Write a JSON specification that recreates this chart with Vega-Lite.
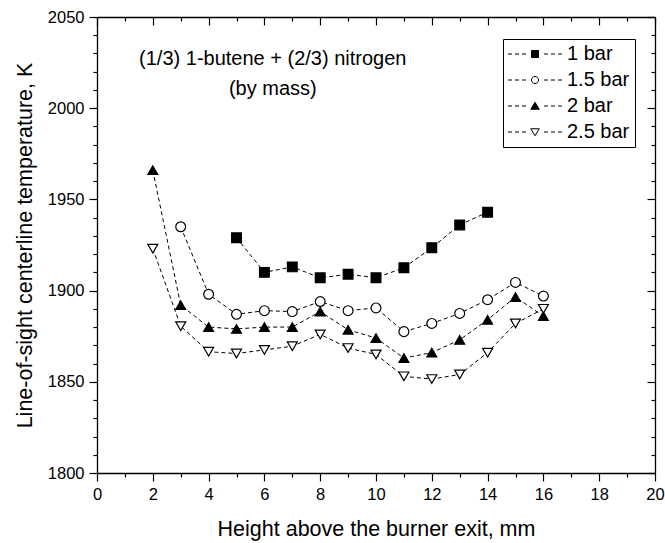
{
  "$schema": "https://vega.github.io/schema/vega-lite/v6.json",
  "width": 558,
  "height": 456,
  "autosize": {"type": "none"},
  "padding": {"left": 97, "top": 17, "right": 10, "bottom": 70},
  "background": "white",
  "config": {"view": {"stroke": null}, "font": "Liberation Sans", "axis": {"grid": false}},
  "data": {
    "values": [
      {"h": 5, "T": 1929, "series": "1 bar"},
      {"h": 6, "T": 1910, "series": "1 bar"},
      {"h": 7, "T": 1913, "series": "1 bar"},
      {"h": 8, "T": 1907, "series": "1 bar"},
      {"h": 9, "T": 1909, "series": "1 bar"},
      {"h": 10, "T": 1907, "series": "1 bar"},
      {"h": 11, "T": 1912.5, "series": "1 bar"},
      {"h": 12, "T": 1923.5, "series": "1 bar"},
      {"h": 13, "T": 1936, "series": "1 bar"},
      {"h": 14, "T": 1943, "series": "1 bar"},
      {"h": 3, "T": 1935, "series": "1.5 bar"},
      {"h": 4, "T": 1898, "series": "1.5 bar"},
      {"h": 5, "T": 1887, "series": "1.5 bar"},
      {"h": 6, "T": 1889, "series": "1.5 bar"},
      {"h": 7, "T": 1888.5, "series": "1.5 bar"},
      {"h": 8, "T": 1894, "series": "1.5 bar"},
      {"h": 9, "T": 1889, "series": "1.5 bar"},
      {"h": 10, "T": 1890.5, "series": "1.5 bar"},
      {"h": 11, "T": 1877.5, "series": "1.5 bar"},
      {"h": 12, "T": 1882, "series": "1.5 bar"},
      {"h": 13, "T": 1887.5, "series": "1.5 bar"},
      {"h": 14, "T": 1895, "series": "1.5 bar"},
      {"h": 15, "T": 1904.5, "series": "1.5 bar"},
      {"h": 16, "T": 1897, "series": "1.5 bar"},
      {"h": 2, "T": 1966, "series": "2 bar"},
      {"h": 3, "T": 1892, "series": "2 bar"},
      {"h": 4, "T": 1880, "series": "2 bar"},
      {"h": 5, "T": 1879, "series": "2 bar"},
      {"h": 6, "T": 1880, "series": "2 bar"},
      {"h": 7, "T": 1880, "series": "2 bar"},
      {"h": 8, "T": 1888.5, "series": "2 bar"},
      {"h": 9, "T": 1878.5, "series": "2 bar"},
      {"h": 10, "T": 1874, "series": "2 bar"},
      {"h": 11, "T": 1863, "series": "2 bar"},
      {"h": 12, "T": 1866, "series": "2 bar"},
      {"h": 13, "T": 1873, "series": "2 bar"},
      {"h": 14, "T": 1884, "series": "2 bar"},
      {"h": 15, "T": 1896.5, "series": "2 bar"},
      {"h": 16, "T": 1886, "series": "2 bar"},
      {"h": 2, "T": 1923, "series": "2.5 bar"},
      {"h": 3, "T": 1880.5, "series": "2.5 bar"},
      {"h": 4, "T": 1866.5, "series": "2.5 bar"},
      {"h": 5, "T": 1865.5, "series": "2.5 bar"},
      {"h": 6, "T": 1867.5, "series": "2.5 bar"},
      {"h": 7, "T": 1869.5, "series": "2.5 bar"},
      {"h": 8, "T": 1876, "series": "2.5 bar"},
      {"h": 9, "T": 1868.5, "series": "2.5 bar"},
      {"h": 10, "T": 1865, "series": "2.5 bar"},
      {"h": 11, "T": 1853, "series": "2.5 bar"},
      {"h": 12, "T": 1851.5, "series": "2.5 bar"},
      {"h": 13, "T": 1854, "series": "2.5 bar"},
      {"h": 14, "T": 1866, "series": "2.5 bar"},
      {"h": 15, "T": 1882, "series": "2.5 bar"},
      {"h": 16, "T": 1890, "series": "2.5 bar"}
    ]
  },
  "layer": [
    {
      "mark": {"type": "line", "color": "black", "strokeWidth": 1, "strokeDash": [4, 3]},
      "encoding": {
        "x": {"field": "h", "type": "quantitative", "scale": {"domain": [0, 20], "nice": false, "zero": false},
          "axis": {"orient": "bottom", "values": [0, 2, 4, 6, 8, 10, 12, 14, 16, 18, 20], "format": "d", "tickSize": 8, "tickWidth": 1.2, "tickColor": "black", "domainColor": "black", "domainWidth": 1.3, "labelFont": "Liberation Sans", "labelFontSize": 16.5, "labelColor": "black", "labelPadding": 5, "labelFlush": false, "labelOverlap": false, "title": "Height above the burner exit, mm", "titleFont": "Liberation Sans", "titleFontSize": 21.5, "titleFontWeight": "normal", "titleColor": "black", "titlePadding": 16}},
        "y": {"field": "T", "type": "quantitative", "scale": {"domain": [1800, 2050], "nice": false, "zero": false},
          "axis": {"orient": "left", "values": [1800, 1850, 1900, 1950, 2000, 2050], "format": "d", "tickSize": 8, "tickWidth": 1.2, "tickColor": "black", "domainColor": "black", "domainWidth": 1.3, "labelFont": "Liberation Sans", "labelFontSize": 16.5, "labelColor": "black", "labelPadding": 5, "labelFlush": false, "labelOverlap": false, "title": "Line-of-sight centerline temperature, K", "titleFont": "Liberation Sans", "titleFontSize": 21.5, "titleFontWeight": "normal", "titleColor": "black", "titlePadding": 11}},
        "detail": {"field": "series", "type": "nominal"}
      }
    },
    {
      "mark": {"type": "point", "filled": true, "stroke": "black", "strokeWidth": 1.2},
      "encoding": {
        "x": {"field": "h", "type": "quantitative", "scale": {"domain": [0, 20], "nice": false, "zero": false}, "axis": null},
        "y": {"field": "T", "type": "quantitative", "scale": {"domain": [1800, 2050], "nice": false, "zero": false}, "axis": null},
        "fill": {"field": "series", "type": "nominal",
          "scale": {"domain": ["1 bar", "1.5 bar", "2 bar", "2.5 bar"], "range": ["black", "white", "black", "white"]}, "legend": null},
        "shape": {"field": "series", "type": "nominal",
          "scale": {"domain": ["1 bar", "1.5 bar", "2 bar", "2.5 bar"], "range": ["square", "circle", "triangle-up", "triangle-down"]}, "legend": null},
        "size": {"field": "series", "type": "nominal",
          "scale": {"domain": ["1 bar", "1.5 bar", "2 bar", "2.5 bar"], "range": [95, 100, 150, 150]}, "legend": null},
        "opacity": {"field": "series", "type": "ordinal", "scale": {"range": [1, 1, 1, 1]},
          "legend": {"orient": "none", "legendX": 406, "legendY": 22, "title": null, "strokeColor": "black", "padding": 5, "labelFont": "Liberation Sans", "labelFontSize": 20, "labelColor": "black", "labelOffset": 22, "symbolOffset": 17, "symbolSize": 100, "rowPadding": 6,
            "symbolStrokeColor": "black", "symbolStrokeWidth": 1, "symbolOpacity": 1,
            "symbolType": {"expr": "datum.value === '1 bar' ? 'M-5.4,0H-4.6M-4,0H-3.2M-2.6,0H-1.8M1.8,0H2.6M3.2,0H4M4.6,0H5.4M-0.7,-0.7H0.7V0.7H-0.7Z' : datum.value === '1.5 bar' ? 'M-5.4,0H-4.6M-4,0H-3.2M-2.6,0H-1.8M1.8,0H2.6M3.2,0H4M4.6,0H5.4M0.7,0A0.7,0.7,0,1,1,-0.7,0A0.7,0.7,0,1,1,0.7,0Z' : datum.value === '2 bar' ? 'M-5.4,0H-4.6M-4,0H-3.2M-2.6,0H-1.8M1.8,0H2.6M3.2,0H4M4.6,0H5.4M0,-0.75L0.85,0.65H-0.85Z' : 'M-5.4,0H-4.6M-4,0H-3.2M-2.6,0H-1.8M1.8,0H2.6M3.2,0H4M4.6,0H5.4M0,0.75L0.85,-0.65H-0.85Z'"},
            "symbolFillColor": {"expr": "(datum.value === '1 bar' || datum.value === '2 bar') ? 'black' : 'white'"}}}
      }
    },
    {
      "mark": {"type": "point", "opacity": 0},
      "encoding": {
        "x": {"field": "h", "type": "quantitative", "scale": {"domain": [0, 20], "nice": false, "zero": false},
          "axis": {"orient": "bottom", "values": [1, 3, 5, 7, 9, 11, 13, 15, 17, 19], "tickSize": 4, "tickWidth": 1.2, "tickColor": "black", "domain": false, "labels": false, "title": null}},
        "y": {"field": "T", "type": "quantitative", "scale": {"domain": [1800, 2050], "nice": false, "zero": false},
          "axis": {"orient": "left", "values": [1810, 1820, 1830, 1840, 1860, 1870, 1880, 1890, 1910, 1920, 1930, 1940, 1960, 1970, 1980, 1990, 2010, 2020, 2030, 2040], "tickSize": 4, "tickWidth": 1.2, "tickColor": "black", "domain": false, "labels": false, "title": null}}
      }
    },
    {
      "mark": {"type": "point", "opacity": 0},
      "encoding": {
        "x": {"field": "h", "type": "quantitative", "scale": {"domain": [0, 20], "nice": false, "zero": false},
          "axis": {"orient": "top", "values": [0, 2, 4, 6, 8, 10, 12, 14, 16, 18, 20], "tickSize": -8, "tickWidth": 1.2, "tickColor": "black", "domain": true, "domainColor": "black", "domainWidth": 1.3, "labels": false, "title": null}},
        "y": {"field": "T", "type": "quantitative", "scale": {"domain": [1800, 2050], "nice": false, "zero": false},
          "axis": {"orient": "right", "values": [1800, 1850, 1900, 1950, 2000, 2050], "tickSize": -8, "tickWidth": 1.2, "tickColor": "black", "domain": true, "domainColor": "black", "domainWidth": 1.3, "labels": false, "title": null}}
      }
    },
    {
      "mark": {"type": "point", "opacity": 0},
      "encoding": {
        "x": {"field": "h", "type": "quantitative", "scale": {"domain": [0, 20], "nice": false, "zero": false},
          "axis": {"orient": "top", "values": [1, 3, 5, 7, 9, 11, 13, 15, 17, 19], "tickSize": -4, "tickWidth": 1.2, "tickColor": "black", "domain": false, "labels": false, "title": null}},
        "y": {"field": "T", "type": "quantitative", "scale": {"domain": [1800, 2050], "nice": false, "zero": false},
          "axis": {"orient": "right", "values": [1810, 1820, 1830, 1840, 1860, 1870, 1880, 1890, 1910, 1920, 1930, 1940, 1960, 1970, 1980, 1990, 2010, 2020, 2030, 2040], "tickSize": -4, "tickWidth": 1.2, "tickColor": "black", "domain": false, "labels": false, "title": null}}
      }
    },
    {
      "data": {"values": [{"note": "(1/3) 1-butene + (2/3) nitrogen\n(by mass)"}]},
      "mark": {"type": "text", "font": "Liberation Sans", "fontSize": 20, "lineHeight": 30, "align": "center", "baseline": "middle", "lineBreak": "\n", "color": "black"},
      "encoding": {
        "x": {"datum": 6.3, "type": "quantitative", "scale": {"domain": [0, 20], "nice": false, "zero": false}, "axis": null},
        "y": {"datum": 2027, "type": "quantitative", "scale": {"domain": [1800, 2050], "nice": false, "zero": false}, "axis": null},
        "text": {"field": "note", "type": "nominal"}
      }
    }
  ],
  "resolve": {"axis": {"x": "independent", "y": "independent"}}
}
